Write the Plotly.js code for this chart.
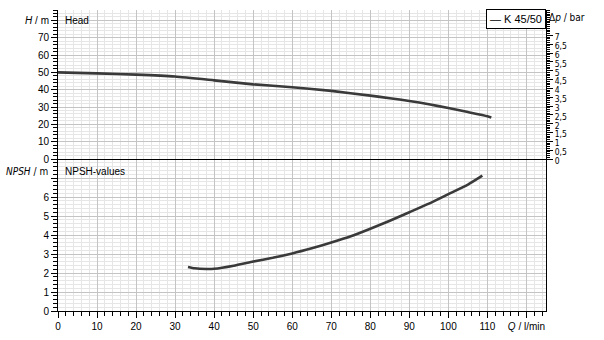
<!DOCTYPE html>
<html>
<head>
<meta charset="utf-8">
<script src="https://cdn.plot.ly/plotly-3.0.1.min.js"></script>
<style>html,body{margin:0;padding:0;background:#fff;}#chart{width:604px;height:340px;}</style>
</head>
<body>
<div id="chart"></div>
<script>
// ---- data ----
var headQ = [0, 10, 20, 30, 40, 50, 60, 70, 80, 85, 90, 95, 100, 105, 110, 111];
var headH = [50, 49.4, 48.7, 47.6, 45.4, 43.1, 41.4, 39.3, 36.6, 35.1, 33.5, 31.6, 29.4, 27.1, 24.7, 24.0];
var npshQ = [33.3, 35, 38, 40, 45, 50, 55, 60, 65, 70, 75, 80, 85, 90, 95, 100, 105, 108.7];
var npshV = [2.32, 2.25, 2.21, 2.22, 2.38, 2.6, 2.8, 3.03, 3.3, 3.6, 3.93, 4.33, 4.75, 5.2, 5.65, 6.15, 6.65, 7.12];
var seriesName = "K 45/50";
var qTicks = [0, 10, 20, 30, 40, 50, 60, 70, 80, 90, 100, 110, 120];
var qTickText = ["0", "10", "20", "30", "40", "50", "60", "70", "80", "90", "100", "110", "<i>Q</i> / l/min"];
var hTicks = [0, 10, 20, 30, 40, 50, 60, 70, 80];
var hTickText = ["0", "10", "20", "30", "40", "50", "60", "70", "<i>H</i> / m"];
var npshTicks = [0, 1, 2, 3, 4, 5, 6, 7];
var npshTickText = ["0", "1", "2", "3", "4", "5", "6", ""];
var pTicks = [0, 0.5, 1, 1.5, 2, 2.5, 3, 3.5, 4, 4.5, 5, 5.5, 6, 6.5, 7];
var pTickText = ["0", "0,5", "1", "1,5", "2", "2,5", "3", "3,5", "4", "4,5", "5", "5,5", "6", "6,5", "7"];
var mPerBar = 10.197;
var hMax = 86;

var FONT = "Liberation Sans, Arial, sans-serif";
var NARROW = "Liberation Sans Narrow, DejaVu Sans Condensed, Liberation Sans, sans-serif";
var lineCol = "#3a3a3a";
var majorGrid = "#c4c4c4";
var minorGrid = "#e6e6e6";

var traces = [
  {x: headQ, y: headH, xaxis: "x2", yaxis: "y", type: "scatter", mode: "lines",
   name: seriesName, line: {color: lineCol, width: 2.6, shape: "spline", smoothing: 0.5}, showlegend: false},
  {x: npshQ, y: npshV, xaxis: "x", yaxis: "y2", type: "scatter", mode: "lines",
   name: seriesName, line: {color: lineCol, width: 2.6, shape: "spline", smoothing: 0.5}, showlegend: false},
  {x: [0], y: [0], xaxis: "x2", yaxis: "y3", type: "scatter", mode: "markers",
   marker: {opacity: 0}, hoverinfo: "skip", showlegend: false}
];

var splitY = 152 / 301;

var xCommon = {
  range: [0, 125], showgrid: true, gridcolor: majorGrid, gridwidth: 1,
  tickmode: "array", tickvals: qTicks, zeroline: false,
  minor: {dtick: 2, showgrid: true, gridcolor: minorGrid, gridwidth: 1}
};

var layout = {
  width: 604, height: 340,
  margin: {l: 58, r: 58, t: 10, b: 29, pad: 0},
  paper_bgcolor: "#ffffff", plot_bgcolor: "#ffffff",
  font: {family: FONT, size: 10, color: "#000"},
  showlegend: false,
  xaxis: Object.assign({}, xCommon, {
    domain: [0, 1], anchor: "y2",
    ticktext: qTickText, ticks: "outside", ticklen: 6, tickcolor: "#000",
    showline: true, linecolor: "#000", linewidth: 1,
    tickfont: {family: FONT, size: 10, color: "#000"},
    minor: {dtick: 2, showgrid: true, gridcolor: minorGrid, gridwidth: 1,
            ticks: "outside", ticklen: 4, tickcolor: "#000"}
  }),
  xaxis2: Object.assign({}, xCommon, {
    domain: [0, 1], anchor: "y", matches: "x",
    showticklabels: false, ticks: "",
    showline: true, linecolor: "#000", linewidth: 1
  }),
  yaxis: {
    domain: [splitY, 1], anchor: "x2", range: [0, hMax],
    tickmode: "array", tickvals: hTicks, ticktext: hTickText,
    ticks: "outside", ticklen: 6, tickcolor: "#000",
    showline: true, linecolor: "#000", linewidth: 1, zeroline: false,
    showgrid: true, gridcolor: majorGrid, gridwidth: 1,
    minor: {dtick: 2, showgrid: true, gridcolor: minorGrid, ticks: "outside", ticklen: 4, tickcolor: "#000"},
    tickfont: {family: FONT, size: 10, color: "#000"}
  },
  yaxis3: {
    overlaying: "y", side: "right", anchor: "x2",
    range: [0, hMax / mPerBar],
    tickmode: "array", tickvals: pTicks, ticktext: pTickText,
    ticks: "outside", ticklen: 6, tickcolor: "#000",
    showline: true, linecolor: "#000", linewidth: 1, zeroline: false,
    showgrid: false, ticklabelshift: 2,
    minor: {dtick: 0.1, showgrid: false, ticks: "outside", ticklen: 3, tickcolor: "#000"},
    tickfont: {family: NARROW, size: 8.5, color: "#000"}
  },
  yaxis2: {
    domain: [0, splitY], anchor: "x", range: [0, 8],
    tickmode: "array", tickvals: npshTicks, ticktext: npshTickText,
    ticks: "outside", ticklen: 6, tickcolor: "#000",
    showline: true, mirror: true, linecolor: "#000", linewidth: 1, zeroline: false,
    showgrid: true, gridcolor: majorGrid, gridwidth: 1,
    minor: {dtick: 0.2, showgrid: true, gridcolor: minorGrid, ticks: "outside", ticklen: 4, tickcolor: "#000"},
    tickfont: {family: FONT, size: 10, color: "#000"}
  },
  annotations: [
    {xref: "paper", yref: "paper", x: 5 / 488, y: (311 - 20) / 301, xanchor: "left", yanchor: "middle",
     text: "Head", showarrow: false, font: {family: FONT, size: 10, color: "#000"}},
    {xref: "paper", yref: "paper", x: 5 / 488, y: (311 - 171) / 301, xanchor: "left", yanchor: "middle",
     text: "NPSH-values", showarrow: false, font: {family: FONT, size: 10, color: "#000"}},
    {xref: "paper", yref: "paper", x: -8 / 488, y: (311 - 171) / 301, xanchor: "right", yanchor: "middle",
     text: "<i>NPSH</i> / m", showarrow: false, font: {family: NARROW, size: 10, color: "#000"}},
    {xref: "paper", yref: "paper", x: 1 + 1 / 488, y: (311 - 18) / 301, xanchor: "left", yanchor: "middle",
     text: "Δ<i>p</i> / bar", showarrow: false, font: {family: NARROW, size: 10, color: "#000"}},
    {xref: "paper", yref: "paper", x: 1, y: 1.003, xanchor: "right", yanchor: "top",
     text: "— " + seriesName, showarrow: false, bgcolor: "#ffffff",
     bordercolor: "#000", borderwidth: 1, borderpad: 3,
     font: {family: FONT, size: 11, color: "#000"}}
  ]
};

Plotly.newPlot("chart", traces, layout, {staticPlot: true, displayModeBar: false});
</script>
</body>
</html>
